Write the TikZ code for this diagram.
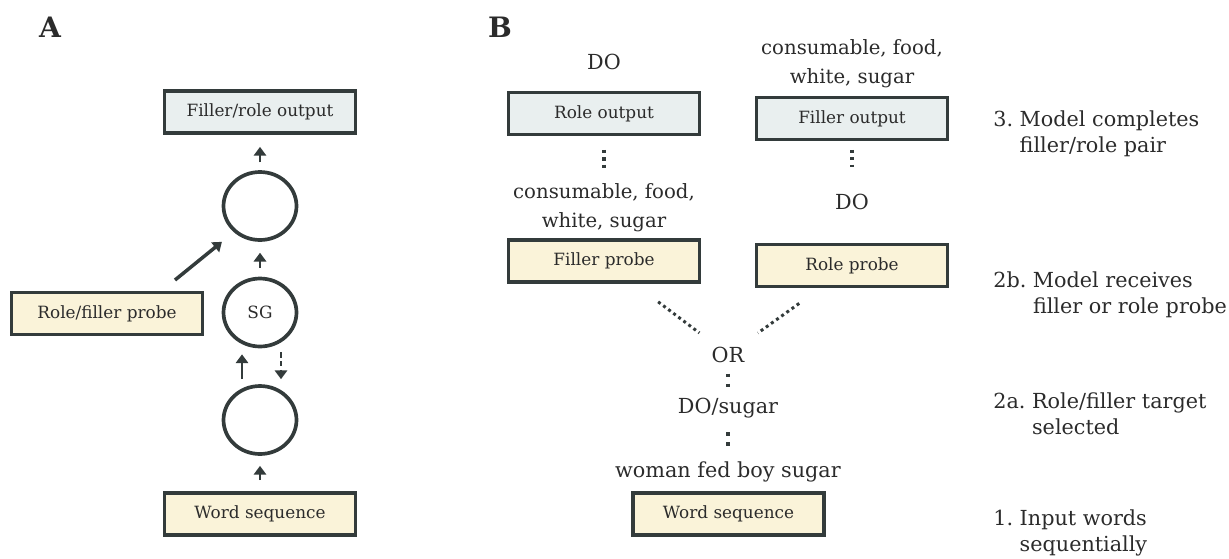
\documentclass[tikz,border=0pt]{standalone}
\usepackage{fontspec}
\setmainfont{DejaVu Serif}
\usetikzlibrary{arrows.meta,positioning,shapes.geometric,calc}
\definecolor{inkgray}{HTML}{333B3B}
\definecolor{outfill}{HTML}{E9EFEF}
\definecolor{probefill}{HTML}{FAF3D9}
\definecolor{txtgray}{HTML}{2B2B2B}

\begin{document}
\begin{tikzpicture}[
    x=0.02cm, y=-0.02cm,
    every node/.style={text=txtgray},
    outbox/.style={draw=inkgray, line width=2.2pt, fill=outfill, minimum width=3.82cm, minimum height=0.84cm, inner sep=0pt, font=\fontsize{9.6}{11}\selectfont},
    probebox/.style={outbox, fill=probefill},
    unit/.style={draw=inkgray, line width=2.1pt, ellipse, minimum width=1.46cm, minimum height=1.36cm, inner sep=0pt, font=\fontsize{9.6}{11}\selectfont},
    word/.style={font=\fontsize{11.8}{16}\selectfont, align=center, inner sep=0pt, anchor=base},
    feat/.style={word, font=\fontsize{11.2}{16.4}\selectfont},
    stagetext/.style={font=\fontsize{11.8}{15.3}\selectfont, inner sep=0pt, anchor=base west},
    panel/.style={font=\bfseries\fontsize{16}{16}\selectfont, inner sep=0pt, anchor=base},
    arr/.style={draw=inkgray, line width=1.7pt, -{Triangle[length=5pt,width=7pt]}},
    dotline/.style={draw=inkgray, line width=1.8pt, dash pattern=on 1.8pt off 2.4pt},
    twodots/.style={draw=inkgray, line width=2pt, dash pattern=on 2pt off 3.8pt},
    slant/.style={draw=inkgray, line width=1.7pt, dash pattern=on 1.7pt off 1.9pt},
]
\useasboundingbox (0,0) rectangle (1229,558);

% panel labels
\node[panel] (labA) at (50,37) {A};
\node[panel] (labB) at (500,37) {B};

% A: network
\node[outbox] (arout) at (260,112) {Filler/role output};
\node[unit] (hid) at (260,206) {};
\node[unit] (sg) at (260,312.5) {SG};
\node[unit] (inp) at (260,420) {};
\node[probebox] (arwords) at (260,514) {Word sequence};
\node[probebox] (arprobe) at (107,313.5) {Role/filler probe};
\coordinate (probetail) at (175,280);

\draw[arr, shorten <=4.5pt, shorten >=6.8pt] (hid) -- (arout);
\draw[arr, shorten <=5.1pt, shorten >=6.2pt] (sg) -- (hid);
\draw[arr, shorten <=6.2pt, shorten >=5.7pt] (arwords) -- (inp);
\draw[arr, line width=2pt, shorten >=8.7pt] (probetail) -- (hid.225);
\draw[arr] ($(inp.north)+(-18,-5)$) -- ($(sg.south)+(-18,6)$);
\draw[arr, dash pattern=on 3pt off 2pt] ($(sg.south)+(21,4)$) -- ($(inp.north)+(21,-5)$);

% B: probing steps
\node[word] (bdo) at (604,69) {DO};
\node[outbox] (brole) at (604,113.5) {Role output};
\node[feat] (bfeat) at (604,227) {consumable, food,\\white, sugar};
\node[probebox] (bfprobe) at (604,261) {Filler probe};

\node[feat] (bfeat2) at (852,83) {consumable, food,\\white, sugar};
\node[outbox] (bfill) at (852,118.5) {Filler output};
\node[word] (bdo2) at (852,209) {DO};
\node[probebox] (brprobe) at (852,265.5) {Role probe};

\node[word] (bor) at (728,362) {OR};
\node[word] (bpair) at (728,413) {DO/sugar};
\node[word] (bsent) at (728,477) {woman fed boy sugar};
\node[probebox] (bwords) at (728.5,514) {Word sequence};

\draw[dotline, shorten <=7.7pt, shorten >=8.5pt] (brole) -- (bfeat);
\draw[dotline, shorten <=4.8pt, shorten >=15pt] (bfill) -- (bdo2);
\draw[slant, shorten <=38.6pt, shorten >=20.4pt] (bfprobe.center) -- (bor.center);
\draw[slant, shorten <=37pt, shorten >=21pt] (brprobe.center) -- (bor.center);
\draw[twodots, shorten <=6.2pt, shorten >=5pt] (bor) -- (bpair);
\draw[twodots, shorten <=8pt, shorten >=8.5pt] (bpair) -- (bsent);

% step descriptions
\node[stagetext] (st3) at (993,126) {\begin{tabular}[t]{@{}l@{\ }l@{}}3. & Model completes\\ & filler/role pair\end{tabular}};
\node[stagetext] (st2b) at (993,287) {\begin{tabular}[t]{@{}l@{\ }l@{}}2b. & Model receives\\ & filler or role probe\end{tabular}};
\node[stagetext] (st2a) at (993,408) {\begin{tabular}[t]{@{}l@{\ }l@{}}2a. & Role/filler target\\ & selected\end{tabular}};
\node[stagetext] (st1) at (993,525) {\begin{tabular}[t]{@{}l@{\ }l@{}}1. & Input words\\ & sequentially\end{tabular}};
\end{tikzpicture}
\end{document}
